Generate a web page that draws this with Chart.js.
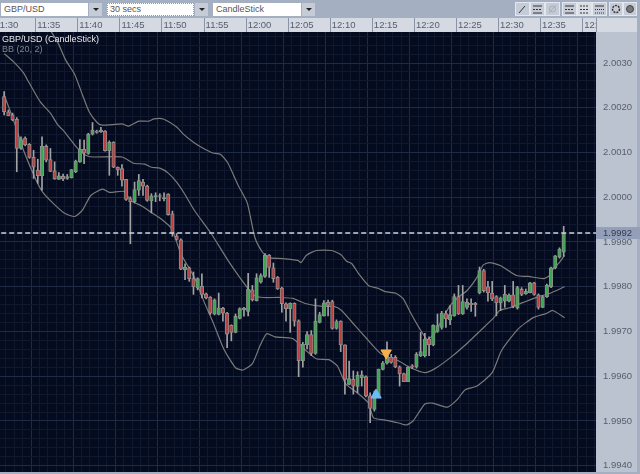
<!DOCTYPE html>
<html lang="en">
<head>
<meta charset="UTF-8">
<title>GBP/USD CandleStick</title>
<script src="https://cdn.jsdelivr.net/npm/chart.js@4"></script>
<style>
    html, body { margin: 0; padding: 0; width: 640px; height: 474px; overflow: hidden; background: #a5afc2; }
    #myChart { position: absolute; left: -11px; top: 0; }
    .box { position: absolute; top: 3px; height: 13px; background: #fff; color: #555; font: 9px/13px "Liberation Sans", sans-serif; padding-left: 3px; box-sizing: border-box; }
    .arrow { position: absolute; top: 3px; height: 13px; background: #c6ccd7; }
    .arrow:after { content: ""; position: absolute; left: 4px; top: 5px; border-left: 3px solid transparent; border-right: 3px solid transparent; border-top: 3px solid #222; }
    #tools { position: absolute; left: 510px; top: 0; }
</style>
</head>
<body>
<canvas id="myChart" width="651" height="474"></canvas>

<div class="box" style="left:1px;width:87px">GBP/USD</div><div class="arrow" style="left:89px;width:13px"></div>
<div class="box" style="left:107px;width:87px;outline:1px dotted #999;outline-offset:-1px">30 secs</div><div class="arrow" style="left:195px;width:13px"></div>
<div class="box" style="left:213px;width:88px">CandleStick</div><div class="arrow" style="left:302px;width:13px"></div>

<svg id="tools" width="130" height="18" xmlns="http://www.w3.org/2000/svg">
    <g fill="#c6ccd7" stroke="#e4e7ee">
        <rect x="5.5" y="2.5" width="14" height="13"/><rect x="20.5" y="2.5" width="14" height="13"/><rect x="35.5" y="2.5" width="14" height="13"/>
        <rect x="52.5" y="2.5" width="14" height="13"/><rect x="67.5" y="2.5" width="14" height="13" fill="#d8dce4"/><rect x="82.5" y="2.5" width="14" height="13"/>
        <rect x="99.5" y="2.5" width="13" height="13"/><rect x="113.5" y="2.5" width="13" height="13"/>
    </g>
    <g stroke="#333" fill="none">
        <path d="M9 13 L15 6"/><path d="M23 6 H32 M23 13 H32"/><path d="M23 9.5 H32" stroke-dasharray="2 1"/>
        <path d="M39 13 L46 5" stroke="#a5acb9"/><circle cx="42.500" cy="9" r="3" stroke="#a5acb9"/>
        <path d="M55 6 H64 M55 13 H64"/><path d="M55 9.500 H64" stroke-dasharray="2 1"/>
        <path d="M70 6 H79 M70 13 H79 M70 9.500 H79" stroke-dasharray="2 1"/>
        <path d="M85 6 H94"/><path d="M85 9.500 H94 M85 13 H94" stroke-dasharray="1 1"/>
        <circle cx="106" cy="9" r="3.500" stroke-width="1.500" stroke-dasharray="2 1"/><circle cx="120" cy="9" r="3.500" fill="#777" stroke="#444"/>
    </g>
</svg>

<script>
    // all prices are pips away from 2.0000
    const candleTimes = [1.5,2,2.5,3,3.5,4,4.5,5,5.5,6,6.5,7,7.5,8,8.5,9,9.5,10,10.5,11,11.5,12,12.5,13,13.5,14,14.5,15,15.5,16,16.5,17,17.5,18,18.5,19,19.5,20,
        20.5,21,21.5,22,22.5,23,23.5,24,24.5,25,25.5,26,26.5,27,27.5,28,28.5,29,29.5,30,30.5,31,31.5,32,32.5,33,33.5,34,34.5,35,35.5,36,36.5,37,37.5,38,
        38.5,39,39.5,40,40.5,41,41.5,42,42.5,43,43.5,44,44.5,45,45.5,46,46.5,47,47.5,48,48.5,49,49.5,50,50.5,51,51.5,52,52.5,53,53.5,54,54.5,55,55.5,56,
        56.5,57,57.5,58,58.5,59,59.5,60,60.5,61,61.5,62,62.5,63,63.5,64,64.5,65,65.5,66,66.5,67,67.5,68];

    const opens = [22.5,19.1,18.4,17.4,10.9,13.2,11.8,8.9,6.1,4.8,11.4,8.4,5.9,4.0,4.7,4.2,4.4,5.7,7.9,10.7,9.8,14.1,14.8,14.6,14.8,10.4,12.3,6.7,6.4,4.0,-0.3,-1.0,1.6,3.4,2.5,-0.8,0.1,0.4,
        -0.3,0.7,-3.7,-8.7,-9.5,-16.2,-15.8,-18.2,-20.3,-19.9,-21.6,-22.3,-26.1,-26.2,-24.8,-25.9,-28.6,-30.2,-27.1,-25.2,-25.5,-20.7,-23.1,-19.0,-17.7,-12.9,-15.8,-17.9,-20.3,-23.8,-24.9,-23.7,-27.6,-36.5,-33.0,-30.7,-34.9,-28.0,
        -26.5,-23.5,-23.3,-29.3,-27.7,-33.0,-41.8,-40.7,-42.3,-40.3,-40.1,-44.4,-47.4,-44.4,-38.5,-37.1,-35.7,-35.8,-37.9,-39.4,-41.2,-37.7,-38.0,-35.4,-35.4,-31.7,-33.0,-30.0,-29.1,-26.0,-27.4,-26.5,-22.2,-26.1,-24.6,-23.7,-23.7,
        -21.4,-16.4,-20.0,-21.4,-22.2,-23.6,-23.2,-23.2,-21.8,-24.8,-20.6,-21.6,-21.3,-19.1,-21.8,-24.6,-22.2,-20.0,-15.8,-13.4,-12.3];
    const highs = [23.6,19.5,18.8,17.8,13.5,13.5,12.0,10.5,8.5,13.5,11.7,10.9,7.9,5.5,5.2,5.1,6.2,8.3,12.9,12.8,14.3,16.7,15.0,15.6,14.9,12.6,12.4,6.8,7.3,4.0,0.1,3.4,5.1,4.0,2.7,0.8,1.0,0.8,
        1.0,0.8,-3.1,-8.1,-9.3,-14.9,-15.6,-16.7,-18.0,-17.1,-21.4,-22.2,-22.7,-21.4,-24.6,-25.7,-28.5,-26.1,-24.7,-24.6,-17.0,-19.7,-17.1,-17.1,-12.6,-12.8,-14.7,-17.7,-20.1,-23.6,-23.6,-23.6,-27.4,-32.4,-30.0,-29.8,-22.7,-25.7,
        -23.1,-23.0,-23.0,-27.4,-27.6,-33.0,-36.6,-38.8,-39.0,-38.8,-39.9,-43.7,-43.3,-38.4,-36.7,-32.3,-35.1,-35.4,-37.7,-39.3,-37.9,-37.4,-34.7,-30.2,-30.4,-31.2,-28.5,-26.1,-25.5,-25.4,-24.2,-21.6,-19.7,-19.7,-22.7,-22.7,-23.5,
        -15.6,-16.1,-18.8,-18.8,-22.0,-22.3,-19.7,-21.6,-18.8,-19.9,-20.2,-20.5,-19.0,-19.0,-21.6,-22.0,-19.4,-15.6,-13.0,-11.3,-6.5];
    const lows = [18.4,18.2,17.1,5.7,10.7,11.5,8.7,4.2,3.1,1.6,7.9,5.7,4.0,4.0,3.7,4.0,4.3,5.5,7.8,7.5,9.6,13.9,14.3,14.5,10.3,4.9,6.6,4.9,2.5,-0.7,-10.4,-1.3,0.4,0.4,-0.9,-3.5,-1.0,-0.8,
        -0.8,-4.0,-8.7,-9.6,-16.2,-18.4,-18.8,-21.7,-20.7,-22.5,-22.7,-26.2,-26.3,-26.3,-27.7,-33.6,-32.1,-30.3,-27.2,-26.6,-26.5,-23.2,-23.2,-19.2,-17.9,-17.9,-19.0,-20.6,-25.7,-27.7,-30.2,-28.8,-40.1,-38.0,-33.9,-35.4,-35.1,-28.1,
        -26.6,-26.5,-29.5,-29.5,-34.5,-44.0,-41.9,-44.0,-43.7,-42.2,-44.6,-50.4,-47.8,-44.6,-38.6,-37.3,-37.1,-38.1,-42.2,-41.2,-41.2,-38.3,-38.2,-35.6,-35.7,-35.4,-33.2,-30.2,-29.5,-29.1,-28.5,-26.6,-26.2,-26.2,-25.0,-25.5,-26.6,
        -21.6,-21.2,-23.2,-23.1,-26.5,-25.3,-24.6,-23.4,-24.7,-25.0,-22.0,-21.7,-21.4,-21.9,-25.0,-24.7,-22.4,-20.2,-16.0,-13.6,-13.2];
    const closes = [19.1,18.2,17.3,10.9,12.9,11.7,8.9,6.7,4.8,11.4,8.3,5.8,4.1,4.8,4.1,4.6,6.2,8.1,10.7,9.9,14.1,15.0,14.5,15.0,10.4,12.3,6.7,6.1,3.8,-0.5,-1.0,1.7,3.7,2.5,-0.7,0.3,0.4,0.2,
        -0.1,-3.9,-8.1,-9.4,-16.1,-15.6,-18.2,-20.0,-18.2,-21.7,-22.5,-25.9,-22.9,-24.7,-25.9,-30.6,-30.2,-26.6,-24.9,-24.8,-20.6,-22.9,-18.0,-17.5,-12.9,-15.7,-18.2,-20.5,-23.8,-24.9,-23.7,-27.7,-36.5,-32.8,-30.7,-34.9,-27.7,-26.2,
        -23.6,-24.2,-29.3,-27.8,-33.0,-40.7,-40.5,-42.2,-39.8,-39.7,-44.4,-47.2,-44.9,-38.4,-37.1,-35.4,-36.9,-37.9,-39.5,-41.2,-38.0,-38.0,-35.1,-34.5,-31.7,-33.0,-28.6,-28.7,-25.9,-27.2,-26.2,-22.2,-26.1,-23.3,-23.5,-24.0,-24.0,
        -16.4,-20.9,-21.4,-22.7,-23.6,-22.5,-21.7,-21.9,-24.4,-20.2,-21.7,-21.0,-19.1,-21.7,-24.6,-22.2,-19.7,-15.8,-13.1,-11.6,-8.0];

    const upperTimes = [6.9,7.7,8.6,9.7,10.6,11.4,12.4,13.0,15.3,16.1,17.3,18.5,19.1,20.2,21.8,22.6,23.8,24.9,26.1,27.0,27.9,29.1,30.2,31.1,32.0,32.7,34.4,36.2,36.6,37.2,38.4,40.2,41.3,42.0,42.6,43.4,44.6,45.8,46.6,47.9,48.7,49.6,50.7,51.6,52.5,53.4,54.3,55.5,56.3,57.5,58.2,59.0,60.2,62.2,63.6,65.4,66.1,66.6,67.2,67.9];
    const upperBand = [37.0,34.5,30.7,27.4,22.9,19.1,16.6,16.1,16.4,15.9,17.0,17.0,17.5,17.5,15.7,14.1,12.3,11.0,9.9,9.6,7.6,2.7,-1.3,-9.0,-12.3,-13.5,-13.7,-14.1,-14.6,-13.0,-11.9,-11.9,-12.8,-14.3,-14.8,-17.0,-19.7,-20.4,-21.1,-21.5,-22.6,-25.8,-29.4,-31.8,-30.3,-27.1,-24.2,-22.0,-20.9,-17.9,-15.2,-14.6,-15.2,-17.5,-17.7,-18.2,-17.5,-15.9,-14.8,-13.0];

    const middleTimes = [1.3,2.4,3.6,4.2,5.6,6.8,7.7,8.3,10.0,11.0,11.8,15.3,16.7,18.0,18.8,19.8,20.8,21.8,22.7,23.9,25.9,27.9,30.2,31.1,32.1,34.1,35.6,37.2,39.1,40.5,41.4,42.5,44.3,46.1,48.1,49.6,51.3,52.5,54.3,56.0,57.9,59.5,60.2,61.4,63.0,64.8,66.1,67.9];
    const middleBand = [32.1,30.3,27.8,25.8,21.3,18.8,16.1,15.0,11.0,9.4,9.0,9.0,7.6,7.4,6.7,6.5,5.4,3.4,0.9,-2.9,-8.1,-14.1,-20.2,-22.0,-22.4,-22.4,-22.6,-23.8,-24.4,-24.4,-25.3,-27.6,-31.4,-35.0,-36.5,-38.1,-39.2,-38.3,-35.9,-33.2,-29.8,-26.9,-25.3,-24.7,-23.5,-22.2,-21.5,-20.0];

    const lowerTimes = [1.3,2.4,3.6,5.1,5.9,7.1,8.5,9.7,10.6,11.6,13.0,13.8,15.6,16.3,17.7,18.8,20.0,21.2,22.3,23.9,25.0,26.2,27.4,28.8,29.7,30.8,31.7,32.5,33.5,35.6,37.2,38.4,39.9,40.9,41.9,43.4,44.6,45.2,46.6,48.1,49.1,49.9,51.3,52.2,54.0,55.2,56.1,57.5,59.3,60.4,62.4,64.2,65.7,66.5,67.9];
    const lowerBand = [22.9,17.3,10.5,3.8,1.1,-1.3,-3.6,-4.3,-2.9,0.4,1.8,1.1,1.3,-0.7,-2.0,-3.4,-4.9,-7.0,-12.6,-17.9,-23.1,-28.3,-33.9,-38.1,-38.6,-37.2,-33.2,-30.5,-31.2,-31.6,-34.3,-36.1,-36.3,-37.7,-41.7,-43.9,-46.0,-49.3,-49.8,-50.4,-50.9,-50.0,-46.2,-46.0,-46.9,-45.1,-43.0,-42.2,-39.2,-34.3,-29.4,-26.9,-26.0,-25.3,-26.9];

    const timeLabels = ['11:30','11:35','11:40','11:45','11:50','11:55','12:00','12:05','12:10','12:15','12:20','12:25','12:30','12:35','12:40'];
    const lastPrice = 1.9992;
    const buySignal = { time: 45.5, pips: -44.2 };
    const sellSignal = { time: 46.7, pips: -34.8 };

    const toPrice = p => 2 + p / 10000;
    const candleShift = -0.2;
    const uiFont = '"Liberation Sans", sans-serif';

    function bandPoints(times, values) {
        return times.map((t, i) => ({ x: t, y: toPrice(values[i]) }));
    }

    const isFiveMin = v => Math.round(v) % 5 === 0;
    const isBigPrice = v => Math.round(v * 10000) % 10 === 0;

    // panels and strips behind the plot, price box and titles on top
    const chrome = {
        id: 'chrome',
        beforeDraw(chart) {
            const { ctx, chartArea: a } = chart;
            ctx.save();
            ctx.fillStyle = '#a5afc2';
            ctx.fillRect(0, 0, chart.width, chart.height);
            ctx.fillStyle = '#d5d9e2';
            ctx.fillRect(0, 18, 648, 14);
            ctx.fillStyle = '#bcc3d0';
            ctx.fillRect(a.right, 32, 648 - a.right, a.bottom - 32);
            ctx.fillStyle = '#050b1e';
            ctx.fillRect(a.left, a.top, a.right - a.left, a.bottom - a.top);
            ctx.restore();
        },
        afterDraw(chart) {
            const { ctx, chartArea: a, scales } = chart;
            ctx.save();
            // cell dividers of the time strip
            ctx.strokeStyle = '#8b93a6';
            scales.x.ticks.forEach(t => {
                if (!isFiveMin(t.value)) return;
                const x = Math.round(scales.x.getPixelForValue(t.value)) + 0.5;
                ctx.beginPath();
                ctx.moveTo(x, 18);
                ctx.lineTo(x, 32);
                ctx.stroke();
            });
            ctx.fillStyle = '#d5d9e2';
            ctx.fillRect(a.right, 18, 648 - a.right, 14);
            ctx.fillStyle = '#8b93a6';
            ctx.fillRect(a.right, 18, 1, 14);

            const y = scales.y.getPixelForValue(lastPrice);
            ctx.fillStyle = '#939fb9';
            ctx.fillRect(a.right, y - 6, chart.width - a.right, 12);
            ctx.fillStyle = '#333b4d';
            ctx.font = '9.5px ' + uiFont;
            ctx.textBaseline = 'middle';
            ctx.fillText(lastPrice.toFixed(4), a.right + 7, y + 0.5);

            ctx.font = '9px ' + uiFont;
            ctx.textBaseline = 'alphabetic';
            ctx.fillStyle = '#e8e8e8';
            ctx.fillText('GBP/USD (CandleStick)', a.left + 13, 42);
            ctx.fillStyle = '#7f8590';
            ctx.fillText('BB (20, 2)', a.left + 13, 52);
            ctx.restore();
        }
    };

    function bandDataset(times, values) {
        return {
            type: 'line',
            data: bandPoints(times, values),
            borderColor: '#7a7a7a',
            borderWidth: 1.2,
            pointRadius: 0,
            tension: 0.2,
            order: 4
        };
    }

    new Chart(document.getElementById('myChart').getContext('2d'), {
        type: 'bar',
        data: {
            datasets: [
                bandDataset(upperTimes, upperBand),
                bandDataset(middleTimes, middleBand),
                bandDataset(lowerTimes, lowerBand),
                {
                    // wicks
                    data: candleTimes.map((t, i) => ({ x: t + candleShift, y: [toPrice(lows[i]), toPrice(highs[i])] })),
                    backgroundColor: '#a3a3a3',
                    barThickness: 1,
                    grouped: false,
                    order: 3
                },
                {
                    // bodies
                    data: candleTimes.map((t, i) => ({ x: t + candleShift, y: [toPrice(opens[i]), toPrice(closes[i])] })),
                    backgroundColor: closes.map((c, i) => c >= opens[i] ? '#3aa84f' : '#bc3f40'),
                    borderColor: '#8f8f8f',
                    borderWidth: 1,
                    borderSkipped: false,
                    barThickness: 3.5,
                    grouped: false,
                    order: 2
                },
                {
                    type: 'line',
                    data: [{ x: 0, y: lastPrice }, { x: 72, y: lastPrice }],
                    borderColor: '#ccd3e2',
                    borderWidth: 1.5,
                    borderDash: [5, 3],
                    pointRadius: 0,
                    order: 1
                },
                {
                    type: 'line',
                    data: [{ x: buySignal.time, y: toPrice(buySignal.pips) }],
                    showLine: false,
                    pointStyle: 'triangle',
                    pointRadius: 6,
                    backgroundColor: '#6dbcf2',
                    borderColor: '#6dbcf2',
                    order: 0
                },
                {
                    type: 'line',
                    data: [{ x: sellSignal.time, y: toPrice(sellSignal.pips) }],
                    showLine: false,
                    pointStyle: 'triangle',
                    rotation: 180,
                    pointRadius: 6,
                    backgroundColor: '#f5b04e',
                    borderColor: '#f5b04e',
                    order: 0
                }
            ]
        },
        options: {
            responsive: false,
            animation: false,
            layout: { autoPadding: false, padding: { top: 18, bottom: 2, left: 0, right: 0 } },
            plugins: { legend: { display: false }, tooltip: { enabled: false } },
            scales: {
                x: {
                    type: 'linear',
                    position: 'top',
                    min: 0,
                    max: 71.14,
                    afterFit: s => { s.height = 14; },
                    border: { display: false },
                    grid: {
                        drawTicks: false,
                        color: c => c.tick && isFiveMin(c.tick.value) ? '#1f2a44' : '#0f182e'
                    },
                    ticks: {
                        stepSize: 1,
                        includeBounds: false,
                        autoSkip: false,
                        maxRotation: 0,
                        align: 'start',
                        labelOffset: 2,
                        padding: 1,
                        color: '#565d6d',
                        font: { family: uiFont, size: 9.5 },
                        callback: v => isFiveMin(v) ? timeLabels[Math.round(v) / 5] : ''
                    }
                },
                y: {
                    position: 'right',
                    min: 1.99386,
                    max: 2.003693,
                    // label padding must not eat into the plot height
                    afterFit: s => { s.width = 44; s.paddingTop = 0; s.paddingBottom = 0; },
                    border: { display: false },
                    grid: {
                        drawTicks: false,
                        color: c => c.tick && isBigPrice(c.tick.value) ? '#1f2a44' : '#0f182e'
                    },
                    ticks: {
                        stepSize: 0.0002,
                        includeBounds: false,
                        autoSkip: false,
                        crossAlign: 'near',
                        padding: 7,
                        color: '#565d6d',
                        font: { family: uiFont, size: 9.5 },
                        callback: v => isBigPrice(v) ? v.toFixed(4) : ''
                    }
                }
            }
        },
        plugins: [chrome]
    });
</script>
</body>
</html>
